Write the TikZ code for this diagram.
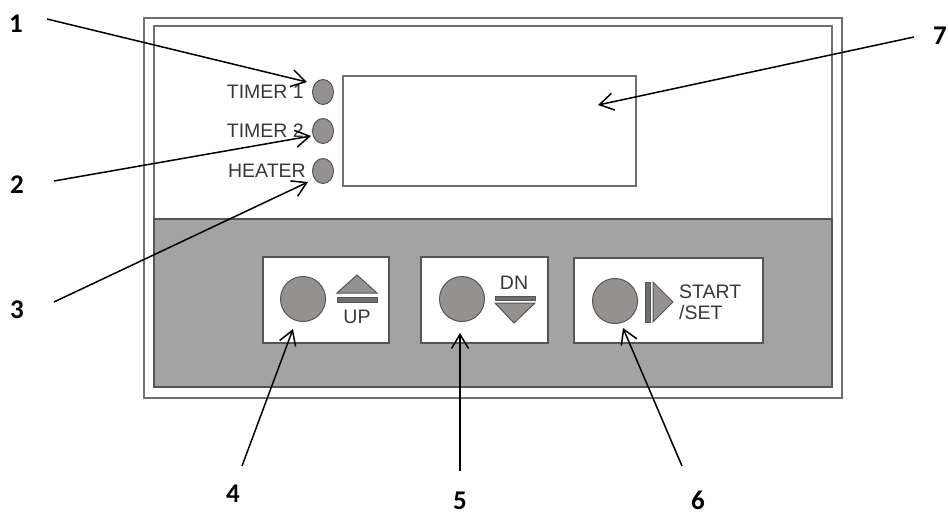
\documentclass[tikz,border=0pt]{standalone}
\usepackage{fontspec}
\setmainfont{Liberation Sans}
\newfontfamily\numfont{Carlito}
\usetikzlibrary{arrows.meta, shapes.geometric}

\definecolor{panelgray}{HTML}{A3A3A3}
\definecolor{knobgray}{HTML}{969191}
\definecolor{edgegray}{HTML}{555555}
\definecolor{framegray}{HTML}{707070}
\definecolor{labelgray}{HTML}{383838}

\begin{document}
\begin{tikzpicture}[x=1pt, y=-1pt,
frame/.style={draw=framegray, line width=1.5pt},
keybox/.style={draw=edgegray, fill=white, line width=1.3pt},
knob/.style={circle, draw=edgegray, fill=knobgray, line width=1pt, minimum size=45pt, inner sep=0pt},
led/.style={ellipse, draw=edgegray, fill=knobgray, line width=1pt, minimum width=21pt, minimum height=25pt, inner sep=0pt},
symbol/.style={draw=edgegray, fill=knobgray, line width=1pt},
label/.style={text=labelgray, inner sep=0pt, font=\fontsize{19.5}{21}\selectfont},
number/.style={inner sep=0pt, font=\numfont\bfseries\fontsize{27}{29}\selectfont},
callout/.style={line width=1.5pt, -{Straight Barb[length=14pt, width=17pt, line width=1.5pt]}}]
\useasboundingbox (0,0) rectangle (948,515);
%================================================================
% Housing
\draw[frame] (144,18) rectangle (842,398);
\draw[frame] (154,26) rectangle (832,387);
\draw[draw=edgegray, fill=panelgray, line width=1.5pt] (154,219) rectangle (832,387);

% Display
\draw[draw=framegray, line width=1.4pt] (343,76) rectangle (636,186);

%================================================================
% Indicator lamps
\node[led] (led1) at (323,92) {};
\node[led] (led2) at (323,131) {};
\node[led] (led3) at (323,171) {};
\node[label, anchor=east] (timer1) at (304,92) {TIMER 1};
\node[label, anchor=east] (timer2) at (304,131) {TIMER 2};
\node[label, anchor=east] (heater) at (306,171) {HEATER};

%================================================================
% Keys
\draw[keybox] (263,257) rectangle (389,343);
\draw[keybox] (421,257) rectangle (548,343);
\draw[keybox] (574,258) rectangle (763,343);

\node[knob] (up) at (303,299) {};
\node[knob] (dn) at (462,299) {};
\node[knob] (start) at (615,301) {};

% UP
\draw[symbol] (337,293) -- (357,275) -- (377,293) -- cycle;
\draw[symbol, fill=framegray] (337,297) rectangle (377,302);
\node[label] (uptext) at (357,317) {UP};

% DN
\draw[symbol, fill=framegray] (495,296) rectangle (535,300);
\draw[symbol] (495,303) -- (535,303) -- (514,323) -- cycle;
\node[label] (dntext) at (514,283) {DN};

% START /SET
\draw[symbol, fill=framegray] (645,282) rectangle (650,322);
\draw[symbol] (653,282) -- (673,302) -- (653,322) -- cycle;
\node[label, anchor=west] (starttext) at (679,292) {START};
\node[label, anchor=west] (settext) at (679,313) {/SET};

%================================================================
% Callouts
\node[number] (n1) at (16,24) {1};
\node[number] (n2) at (17,185) {2};
\node[number] (n3) at (17,310) {3};
\node[number] (n4) at (233,494) {4};
\node[number] (n5) at (460,501) {5};
\node[number, anchor=east] (n7) at (947,36) {7};
\node[number] (n6) at (698,500) {6};

\coordinate (s1) at (47,19);   \coordinate (t1) at (307,82);
\coordinate (s2) at (54,181);  \coordinate (t2) at (311,136);
\coordinate (s3) at (54,302);  \coordinate (t3) at (308,182);
\coordinate (s4) at (242,466); \coordinate (t4) at (293,329);
\coordinate (s5) at (460,471); \coordinate (t5) at (460,333);
\coordinate (s6) at (682,466); \coordinate (t6) at (623,328);
\coordinate (s7) at (914,37);  \coordinate (t7) at (598,105);

\foreach \i in {1,...,7}
  \draw[callout] (s\i) -- (t\i);

%================================================================
\end{tikzpicture}
\end{document}
